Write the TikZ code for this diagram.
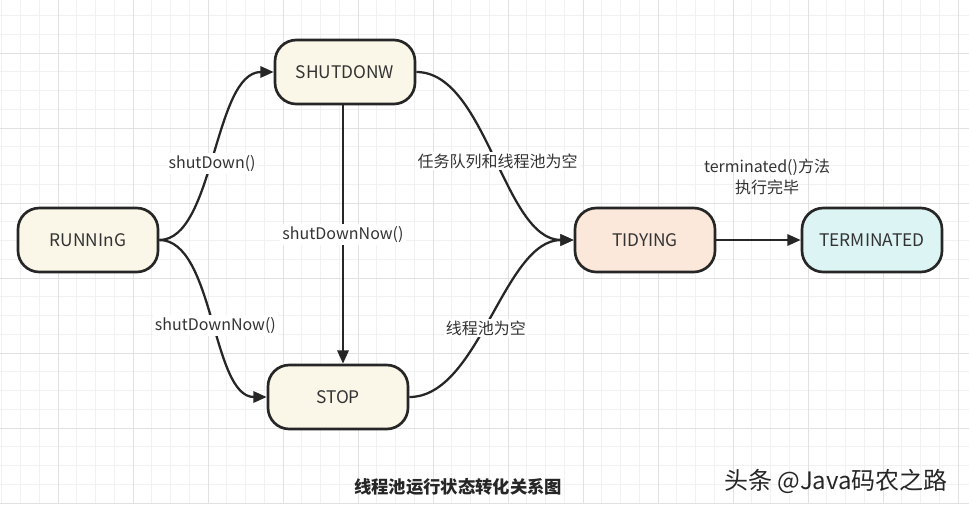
\documentclass[tikz,border=0pt]{standalone}
\usepackage{fontspec}
\setmainfont{Noto Sans CJK SC}
\usetikzlibrary{arrows.meta,positioning}

\definecolor{cream}{HTML}{FAF7E8}
\definecolor{peach}{HTML}{FBE8DA}
\definecolor{aqua}{HTML}{DDF4F5}
\definecolor{ink}{HTML}{262626}
\definecolor{txt}{HTML}{333333}
\definecolor{gridminor}{HTML}{F1F1F1}
\definecolor{gridmajor}{HTML}{E1E1E1}

\tikzset{
	state/.style={draw=ink, line width=2pt, rounded corners=16pt,
		minimum width=105pt, minimum height=48pt, text=txt,
		font=\fontsize{13}{15}\selectfont},
	trans/.style={draw=ink, line width=1.7pt, -{Triangle[length=10pt,width=8.5pt]}},
	lbl/.style={fill=white, text=txt, inner sep=1.5pt, font=\fontsize{12}{14}\selectfont},
}

\begin{document}
\begin{tikzpicture}[x=0.75pt, y=-0.75pt]
	
	\useasboundingbox (0,0) rectangle (969,504);
	\fill[white] (0,0) rectangle (969,504);
	
	% grid
	\foreach \i in {0,...,51}
		\draw[gridminor, line width=0.6pt] ({1.75+18.75*\i},0) -- ({1.75+18.75*\i},504);
	\foreach \j in {0,...,26}
		\draw[gridminor, line width=0.6pt] (0,{15.5+18.75*\j}) -- (969,{15.5+18.75*\j});
	\foreach \i in {3,7,...,51}
		\draw[gridmajor, line width=0.7pt] ({1.75+18.75*\i},0) -- ({1.75+18.75*\i},504);
	\foreach \j in {2,6,...,26}
		\draw[gridmajor, line width=0.7pt] (0,{15.5+18.75*\j}) -- (969,{15.5+18.75*\j});
	
	% states
	\node[state, fill=cream] (run) at (88,240) {RUNNInG};
	\node[state, fill=cream] (shut) at (345,72) {SHUTDONW};
	\node[state, fill=cream] (stop) at (338,397) {STOP};
	\node[state, fill=peach] (tidy) at (645,240) {TIDYING};
	\node[state, fill=aqua] (term) at (872,240) {TERMINATED};
	
	% transitions
	\draw[trans] (run.east) .. controls +(55,0) and +(-60,0) .. (shut.west)
		node[lbl, pos=0.47] {shutDown()};
	\draw[trans] (run.east) .. controls +(55,0) and +(-55,0) .. (stop.west)
		node[lbl, pos=0.53] {shutDownNow()};
	\draw[trans] (shut.south -| 343,0) -- (stop.north -| 343,0)
		node[lbl, midway] {shutDownNow()};
	\draw[trans] (shut.east) .. controls +(70,0) and +(-70,0) .. (tidy.west)
		node[lbl, pos=0.52] {任务队列和线程池为空};
	\draw[trans] (stop.east) .. controls +(70,0) and +(-70,0) .. (tidy.west)
		node[lbl, pos=0.46] {线程池为空};
	\draw[trans] (tidy) -- (term);
	
	\node[text=txt, align=center, font=\fontsize{12}{16}\selectfont] (done) at (767,177)
		{terminated()方法\\执行完毕};
	
	% caption and mark
	\node[text=ink, font=\fontsize{13}{15}\selectfont\bfseries] (cap) at (458,487)
		{线程池运行状态转化关系图};
	\node[text=ink, font=\fontsize{18}{20}\selectfont] (mark) at (836,481)
		{头条 @Java码农之路};
	
\end{tikzpicture}
\end{document}
